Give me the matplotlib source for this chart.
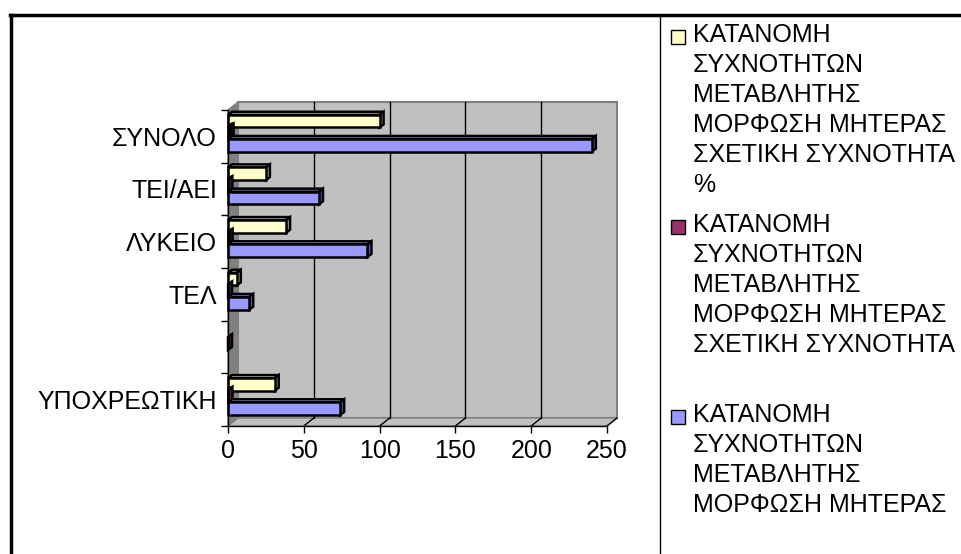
import numpy as np
import matplotlib
matplotlib.use('Agg')
import matplotlib.pyplot as plt
from matplotlib.patches import Polygon, Rectangle
from matplotlib.lines import Line2D

plt.rcParams['font.family'] = ['Liberation Sans', 'DejaVu Sans']

# ΜΟΡΦΩΣΗ ΜΗΤΕΡΑΣ - κατανομή συχνοτήτων
categories = ['ΥΠΟΧΡΕΩΤΙΚΗ', '', 'ΤΕΛ', 'ΛΥΚΕΙΟ', 'ΤΕΙ/ΑΕΙ', 'ΣΥΝΟΛΟ']
freq = [74, np.nan, 14, 92, 60, 240]
rel_freq = [0.31, 0.0, 0.06, 0.38, 0.25, 1.0]
rel_freq_pct = [30.8, np.nan, 5.8, 38.3, 25.0, 100.0]
x_ticks = [0, 50, 100, 150, 200, 250]

legend_lines = [
    ['ΚΑΤΑΝΟΜΗ', 'ΣΥΧΝΟΤΗΤΩΝ', 'ΜΕΤΑΒΛΗΤΗΣ', 'ΜΟΡΦΩΣΗ ΜΗΤΕΡΑΣ', 'ΣΧΕΤΙΚΗ ΣΥΧΝΟΤΗΤΑ', '%'],
    ['ΚΑΤΑΝΟΜΗ', 'ΣΥΧΝΟΤΗΤΩΝ', 'ΜΕΤΑΒΛΗΤΗΣ', 'ΜΟΡΦΩΣΗ ΜΗΤΕΡΑΣ', 'ΣΧΕΤΙΚΗ ΣΥΧΝΟΤΗΤΑ'],
    ['ΚΑΤΑΝΟΜΗ', 'ΣΥΧΝΟΤΗΤΩΝ', 'ΜΕΤΑΒΛΗΤΗΣ', 'ΜΟΡΦΩΣΗ ΜΗΤΕΡΑΣ'],
]

W, H = 962, 554
fig = plt.figure(figsize=(W / 100, H / 100), dpi=100)
ax = fig.add_axes([228 / W, (H - 426) / H, 379 / W, 316 / H])
ax.set_xlim(0, 250)
ax.set_ylim(0, 6)
ax.patch.set_visible(False)


def px(dx, dy):
    # pixel offset -> data offset
    inv = ax.transData.inverted()
    x0, y0 = inv.transform((0, 0))
    x1, y1 = inv.transform((dx, dy))
    return x1 - x0, y1 - y0


wdx, wdy = px(10, 8)   # depth of the walls
bdx, bdy = px(4, 3)    # depth of each bar

# back wall, side wall, floor
ax.add_patch(Polygon([(wdx, wdy), (250 + wdx, wdy), (250 + wdx, 6 + wdy), (wdx, 6 + wdy)],
                     closed=True, fc='#c0c0c0', ec='#808080', lw=1.5, clip_on=False, zorder=0))
ax.add_patch(Polygon([(0, 0), (0, 6), (wdx, 6 + wdy), (wdx, wdy)],
                     closed=True, fc='#808080', ec='#808080', lw=1, clip_on=False, zorder=0))
ax.add_patch(Polygon([(0, 0), (250, 0), (250 + wdx, wdy), (wdx, wdy)],
                     closed=True, fc='#c0c0c0', ec='#808080', lw=1, clip_on=False, zorder=0))

for xv in x_ticks[1:]:
    if xv < 250:
        ax.plot([xv + wdx, xv + wdx], [wdy, 6 + wdy], color='black', lw=1, zorder=1, clip_on=False)
    ax.plot([xv, xv + wdx], [0, wdy], color='black', lw=1, zorder=1, clip_on=False)


def box(y, w, h, face, side, top):
    if np.isnan(w):
        return
    kw = dict(closed=True, ec='black', lw=1.8, joinstyle='miter', clip_on=False, zorder=3)
    ax.add_patch(Polygon([(0, y + h), (w, y + h), (w + bdx, y + h + bdy), (bdx, y + h + bdy)], fc=top, **kw))
    ax.add_patch(Polygon([(w, y), (w + bdx, y + bdy), (w + bdx, y + h + bdy), (w, y + h)], fc=side, **kw))
    ax.add_patch(Polygon([(0, y), (w, y), (w, y + h), (0, y + h)], fc=face, **kw))


bar_h = 0.24
series = [
    (rel_freq_pct, 0.29, '#ffffcc', '#a8a880', '#ffffe6'),
    (rel_freq, 0.065, '#993366', '#5e1f40', '#b35580'),
    (freq, -0.17, '#9999ff', '#5c5cb0', '#b3b3ff'),
]
for i in range(len(categories)):
    c = i + 0.5
    for vals, off, face, side, top in series:
        box(c + off - bar_h / 2, vals[i], bar_h, face, side, top)

# axes
for s in ['top', 'right']:
    ax.spines[s].set_visible(False)
for s in ['left', 'bottom']:
    ax.spines[s].set_linewidth(1)
    ax.spines[s].set_zorder(4)
ax.set_xticks(x_ticks)
ax.set_xticklabels([str(v) for v in x_ticks], fontsize=18)
ax.tick_params(axis='x', direction='out', length=5, width=1, pad=4)
ax.set_yticks(np.arange(len(categories)) + 0.5)
ax.set_yticklabels(categories, fontsize=18)
ax.set_yticks(np.arange(len(categories) + 1), minor=True)
ax.tick_params(axis='y', which='major', length=0, pad=8)
ax.tick_params(axis='y', which='minor', direction='out', length=5, width=1)

# legend drawn by hand
legend_colors = ['#ffffcc', '#993366', '#9999ff']
first_base = [42, 232, 422]
for lines, col, b0 in zip(legend_lines, legend_colors, first_base):
    fig.patches.append(Rectangle((671 / W, (H - b0 - 2) / H), 14 / W, 14 / H,
                                 transform=fig.transFigure, fc=col, ec='black', lw=1))
    for k, t in enumerate(lines):
        fig.text(693 / W, (H - (b0 + 30 * k)) / H, t, fontsize=18, va='baseline', ha='left')

# chart frame
fig.add_artist(Line2D([10 / W, 1], [(H - 14.5) / H] * 2, color='black', lw=2.5))
fig.add_artist(Line2D([10.5 / W] * 2, [0, (H - 14.5) / H], color='black', lw=2.5))
fig.add_artist(Line2D([660 / W] * 2, [0, (H - 14.5) / H], color='black', lw=1))

fig.savefig('out.png', dpi=100)
